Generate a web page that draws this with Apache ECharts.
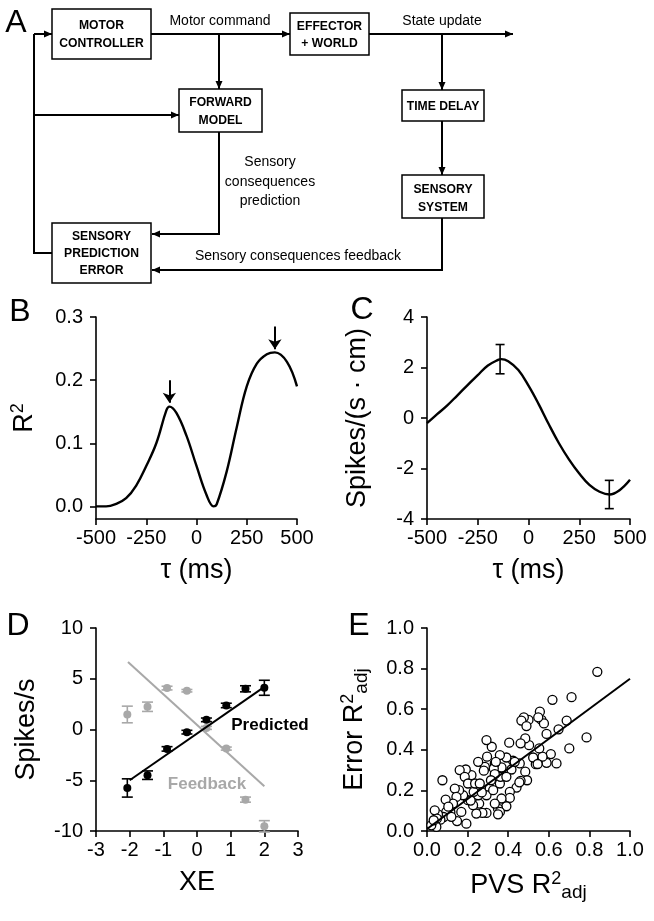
<!DOCTYPE html>
<html>
<head>
<meta charset="utf-8">
<script src="https://cdn.jsdelivr.net/npm/echarts@6/dist/echarts.min.js"></script>
<style>
  html, body { margin: 0; padding: 0; background: #fff; }
  #chart-container { width: 654px; height: 921px; }
</style>
</head>
<body>
<div id="chart-container"></div>
<script>
// panel B: R^2 vs lag
var tauB = [-500, -450, -400, -350, -300, -250, -200, -150, -135, -100, -50, 0, 50, 85, 100, 150, 200, 250, 300, 350, 390, 450, 500];
var r2B = [0.000, 0.000, 0.004, 0.013, 0.033, 0.064, 0.100, 0.152, 0.158, 0.148, 0.112, 0.064, 0.018, 0.000, 0.003, 0.055, 0.125, 0.190, 0.226, 0.241, 0.244, 0.229, 0.190];
var arrowTau = [-135, 390];
var arrowTop = [0.200, 0.285];
var arrowTip = [0.164, 0.249];

// panel C: regression coefficient vs lag
var tauC = [-500, -450, -400, -350, -300, -250, -200, -150, -135, -100, -50, 0, 50, 100, 150, 200, 250, 300, 350, 400, 450, 500];
var coefC = [-0.20, 0.15, 0.50, 0.90, 1.30, 1.70, 2.08, 2.30, 2.33, 2.25, 1.90, 1.28, 0.55, -0.25, -1.00, -1.65, -2.20, -2.65, -2.92, -3.03, -2.85, -2.45];
var errTauC = [-140, 398];
var errMidC = [2.33, -3.03];
var errHalfC = [0.58, 0.56];

// panel D: firing vs XE
var xeD = [-2.07, -1.47, -0.89, -0.30, 0.28, 0.87, 1.44, 2.00];
var predMean = [-5.76, -4.50, -1.91, -0.26, 0.95, 2.37, 4.01, 4.11];
var predErr = [0.90, 0.42, 0.22, 0.18, 0.18, 0.22, 0.30, 0.74];
var fbMean = [1.48, 2.24, 4.08, 3.82, 0.16, -1.88, -6.91, -9.54];
var fbErr = [0.82, 0.46, 0.18, 0.12, 0.15, 0.15, 0.25, 0.56];
var predFitX = [-2.00, 2.00];
var predFitY = [-5.00, 4.20];
var fbFitX = [-2.05, 2.00];
var fbFitY = [6.65, -5.60];

// panel E: Error R2adj vs PVS R2adj
var pvsE = [0.839, 0.712, 0.618, 0.688, 0.786, 0.701, 0.648, 0.589, 0.638, 0.610, 0.589, 0.569, 0.556, 0.564, 0.576, 0.548,
  0.553, 0.536, 0.523, 0.500, 0.477, 0.465, 0.490, 0.503, 0.484, 0.461, 0.484, 0.493, 0.457, 0.461, 0.441, 0.405,
  0.424, 0.416, 0.391, 0.408, 0.408, 0.391, 0.359, 0.362, 0.359, 0.367, 0.367, 0.350, 0.359, 0.350, 0.334, 0.334,
  0.329, 0.334, 0.339, 0.319, 0.293, 0.296, 0.285, 0.280, 0.309, 0.293, 0.293, 0.273, 0.252, 0.257, 0.243, 0.252,
  0.230, 0.227, 0.219, 0.191, 0.161, 0.186, 0.202, 0.178, 0.194, 0.169, 0.158, 0.137, 0.145, 0.128, 0.115, 0.148,
  0.092, 0.076, 0.095, 0.082, 0.066, 0.054, 0.038, 0.049, 0.046, 0.021, 0.033, 0.202, 0.237, 0.260, 0.326, 0.391,
  0.432, 0.315, 0.270, 0.215, 0.105, 0.120, 0.545, 0.455];
var errE = [0.784, 0.659, 0.646, 0.544, 0.461, 0.407, 0.501, 0.478, 0.333, 0.379, 0.336, 0.366, 0.588, 0.547, 0.530, 0.560,
  0.407, 0.329, 0.362, 0.547, 0.560, 0.544, 0.517, 0.423, 0.456, 0.432, 0.292, 0.250, 0.333, 0.247, 0.214, 0.435,
  0.346, 0.303, 0.362, 0.193, 0.163, 0.122, 0.234, 0.267, 0.374, 0.313, 0.160, 0.110, 0.094, 0.082, 0.135, 0.333,
  0.308, 0.280, 0.341, 0.415, 0.448, 0.366, 0.316, 0.297, 0.209, 0.176, 0.089, 0.089, 0.341, 0.135, 0.086, 0.176,
  0.193, 0.127, 0.275, 0.303, 0.300, 0.267, 0.152, 0.176, 0.036, 0.094, 0.201, 0.209, 0.168, 0.135, 0.094, 0.049,
  0.155, 0.250, 0.094, 0.069, 0.056, 0.082, 0.102, 0.061, 0.020, 0.028, 0.053, 0.234, 0.234, 0.234, 0.201, 0.267,
  0.341, 0.250, 0.190, 0.150, 0.120, 0.070, 0.330, 0.240];
var fitXE = [0.0, 1.0];
var fitYE = [0.01, 0.75];

var FONT = "Liberation Sans, Arial, sans-serif";
var GRAY = "#a8a8a8";

var dom = document.getElementById("chart-container");
var myChart = echarts.init(dom, null, { renderer: "canvas", useDirtyRect: false });

function pairs(xs, ys) {
  return xs.map(function (x, i) { return [x, ys[i]]; });
}

function errRender(capW, color) {
  return function (params, api) {
    var x = api.value(0);
    var lo = api.coord([x, api.value(1)]);
    var hi = api.coord([x, api.value(2)]);
    var st = { stroke: color, lineWidth: 1.6 };
    return {
      type: "group",
      children: [
        { type: "line", shape: { x1: lo[0], y1: lo[1], x2: hi[0], y2: hi[1] }, style: st },
        { type: "line", shape: { x1: lo[0] - capW / 2, y1: lo[1], x2: lo[0] + capW / 2, y2: lo[1] }, style: st },
        { type: "line", shape: { x1: hi[0] - capW / 2, y1: hi[1], x2: hi[0] + capW / 2, y2: hi[1] }, style: st }
      ]
    };
  };
}

function xAx(idx, min, max, interval, name, fmt) {
  return {
    type: "value", gridIndex: idx, min: min, max: max, interval: interval,
    name: name, nameLocation: "middle", nameGap: 38,
    nameTextStyle: { fontSize: 27, color: "#000", fontFamily: FONT, rich: richText() },
    axisLine: { show: true, onZero: false, lineStyle: { color: "#000", width: 1.6 } },
    axisTick: { show: true, inside: false, length: 6, lineStyle: { color: "#000", width: 1.6 } },
    axisLabel: { color: "#000", fontSize: 20, fontFamily: FONT, margin: 9, formatter: fmt },
    splitLine: { show: false }
  };
}

function yAx(idx, min, max, interval, name, fmt, custom) {
  var a = {
    type: "value", gridIndex: idx, min: min, max: max,
    name: name, nameLocation: "middle", nameGap: 56,
    nameTextStyle: { fontSize: 27, color: "#000", fontFamily: FONT, rich: richText() },
    axisLine: { show: true, onZero: false, lineStyle: { color: "#000", width: 1.6 } },
    axisTick: { show: true, inside: false, length: 6, lineStyle: { color: "#000", width: 1.6 } },
    axisLabel: { color: "#000", fontSize: 20, fontFamily: FONT, margin: 13, formatter: fmt },
    splitLine: { show: false }
  };
  if (custom) {
    a.axisLabel.customValues = custom;
    a.axisTick.customValues = custom;
  } else {
    a.interval = interval;
  }
  return a;
}

function richText() {
  return {
    sup: { fontSize: 18, fontFamily: FONT, color: "#000", padding: [0, 0, 13, 0] },
    sub: { fontSize: 19, fontFamily: FONT, color: "#000", padding: [14, 0, 0, 0] }
  };
}

var fmt1 = function (v) { return v.toFixed(1); };
var fmt0 = function (v) { return String(v); };

// ---- panel A (block diagram) ----
var graphics = [];
var LW = 2;

function box(x, y, w, h, lines, ys) {
  graphics.push({ type: "rect", shape: { x: x, y: y, width: w, height: h },
    style: { fill: "#fff", stroke: "#000", lineWidth: 1.5 } });
  lines.forEach(function (t, i) {
    graphics.push({ type: "text", x: x + w / 2, y: ys[i], scaleX: 0.9,
      style: { text: t, fontSize: 13.5, fontWeight: "bold", fontFamily: FONT, fill: "#000", align: "center", verticalAlign: "middle" } });
  });
}

function arrow(points) {
  graphics.push({ type: "polyline", shape: { points: points }, style: { stroke: "#000", lineWidth: LW, fill: null } });
  var p1 = points[points.length - 2], p2 = points[points.length - 1];
  var dx = p2[0] - p1[0], dy = p2[1] - p1[1];
  var len = Math.sqrt(dx * dx + dy * dy);
  var ux = dx / len, uy = dy / len;
  var L = 8, W = 3.5;
  graphics.push({ type: "polygon", shape: { points: [
    [p2[0], p2[1]],
    [p2[0] - ux * L - uy * W, p2[1] - uy * L + ux * W],
    [p2[0] - ux * L + uy * W, p2[1] - uy * L - ux * W]
  ] }, style: { fill: "#000" } });
}

function line(points) {
  graphics.push({ type: "polyline", shape: { points: points }, style: { stroke: "#000", lineWidth: LW, fill: null } });
}

function label(t, x, y, size, extra) {
  var st = { text: t, fontSize: size, fontFamily: FONT, fill: "#000", align: "center", verticalAlign: "middle" };
  if (extra) { for (var k in extra) st[k] = extra[k]; }
  graphics.push({ type: "text", x: x, y: y, style: st });
}

arrow([[151, 34], [290, 34]]);
arrow([[369, 34], [513, 34]]);
arrow([[219, 34], [219, 89]]);
arrow([[442, 34], [442, 90]]);
arrow([[442, 121], [442, 175]]);
arrow([[219, 132], [219, 234], [152, 234]]);
arrow([[442, 218], [442, 270], [152, 270]]);
line([[52, 253], [34, 253], [34, 34]]);
arrow([[34, 34], [52, 34]]);
arrow([[34, 115], [179, 115]]);

box(52, 9, 99, 50, ["MOTOR", "CONTROLLER"], [25, 43]);
box(290, 13, 79, 42, ["EFFECTOR", "+ WORLD"], [26, 43]);
box(179, 89, 83, 43, ["FORWARD", "MODEL"], [102, 120]);
box(402, 90, 82, 31, ["TIME DELAY"], [106]);
box(402, 175, 82, 43, ["SENSORY", "SYSTEM"], [189, 207]);
box(52, 223, 99, 60, ["SENSORY", "PREDICTION", "ERROR"], [236, 253, 270]);

label("Motor command", 220, 21, 14);
label("State update", 442, 21, 14);
label("Sensory", 270, 162, 14);
label("consequences", 270, 182, 14);
label("prediction", 270, 201, 14);
label("Sensory consequences feedback", 298, 256, 14);

// panel letters
label("A", 16, 23, 32);
label("B", 20, 312, 32);
label("C", 362, 310, 32);
label("D", 18, 626, 32);
label("E", 359, 626, 32);

// text labels in D
label("Predicted", 270, 725, 17, { fontWeight: "bold" });
label("Feedback", 207, 784, 17, { fontWeight: "bold", fill: GRAY });

var option = {
  animation: false,
  backgroundColor: "#fff",
  textStyle: { fontFamily: FONT },
  grid: [
    { left: 96, top: 317, width: 201, height: 202 },
    { left: 427, top: 317, width: 203, height: 202 },
    { left: 96, top: 628, width: 202, height: 203 },
    { left: 427, top: 628, width: 203, height: 203 }
  ],
  xAxis: [
    xAx(0, -500, 500, 250, "τ (ms)", fmt0),
    xAx(1, -500, 500, 250, "τ (ms)", fmt0),
    xAx(2, -3, 3, 1, "XE", fmt0),
    xAx(3, 0, 1, 0.2, "PVS R{sup|2}{sub|adj}", fmt1)
  ],
  yAxis: [
    yAx(0, -0.02, 0.3, null, "R{sup|2}", fmt1, [0, 0.1, 0.2, 0.3]),
    yAx(1, -4, 4, 2, "Spikes/(s · cm)", fmt0),
    yAx(2, -10, 10, 5, "Spikes/s", fmt0),
    yAx(3, 0, 1, 0.2, "Error R{sup|2}{sub|adj}", fmt1)
  ],
  graphic: graphics,
  series: [
    {
      type: "line", xAxisIndex: 0, yAxisIndex: 0, data: pairs(tauB, r2B),
      smooth: 0.4, showSymbol: false, lineStyle: { color: "#000", width: 2.4 },
      markLine: {
        silent: true, symbol: ["none", "arrow"], symbolSize: 10,
        lineStyle: { color: "#000", width: 2, type: "solid" },
        label: { show: false },
        data: arrowTau.map(function (t, i) {
          return [{ coord: [t, arrowTop[i]] }, { coord: [t, arrowTip[i]] }];
        })
      }
    },
    {
      type: "line", xAxisIndex: 1, yAxisIndex: 1, data: pairs(tauC, coefC),
      smooth: 0.4, showSymbol: false, lineStyle: { color: "#000", width: 2.4 }
    },
    {
      type: "custom", xAxisIndex: 1, yAxisIndex: 1,
      renderItem: errRender(9, "#000"),
      data: errTauC.map(function (t, i) { return [t, errMidC[i] - errHalfC[i], errMidC[i] + errHalfC[i]]; })
    },
    {
      type: "line", xAxisIndex: 2, yAxisIndex: 2, data: pairs(fbFitX, fbFitY),
      showSymbol: false, lineStyle: { color: GRAY, width: 2 }
    },
    {
      type: "line", xAxisIndex: 2, yAxisIndex: 2, data: pairs(predFitX, predFitY),
      showSymbol: false, lineStyle: { color: "#000", width: 2 }
    },
    {
      type: "custom", xAxisIndex: 2, yAxisIndex: 2,
      renderItem: errRender(11, GRAY),
      data: xeD.map(function (x, i) { return [x, fbMean[i] - fbErr[i], fbMean[i] + fbErr[i]]; })
    },
    {
      type: "custom", xAxisIndex: 2, yAxisIndex: 2,
      renderItem: errRender(11, "#000"),
      data: xeD.map(function (x, i) { return [x, predMean[i] - predErr[i], predMean[i] + predErr[i]]; })
    },
    {
      type: "scatter", xAxisIndex: 2, yAxisIndex: 2, data: pairs(xeD, fbMean),
      symbolSize: 8, itemStyle: { color: GRAY, opacity: 1 }
    },
    {
      type: "scatter", xAxisIndex: 2, yAxisIndex: 2, data: pairs(xeD, predMean),
      symbolSize: 8, itemStyle: { color: "#000", opacity: 1 }
    },
    {
      type: "line", xAxisIndex: 3, yAxisIndex: 3, data: pairs(fitXE, fitYE),
      showSymbol: false, lineStyle: { color: "#000", width: 2 }
    },
    {
      type: "scatter", xAxisIndex: 3, yAxisIndex: 3, data: pairs(pvsE, errE),
      symbolSize: 9, itemStyle: { color: "#fff", borderColor: "#000", borderWidth: 1.3, opacity: 1 }
    }
  ]
};

myChart.setOption(option);
window.addEventListener("resize", myChart.resize);
</script>
</body>
</html>
